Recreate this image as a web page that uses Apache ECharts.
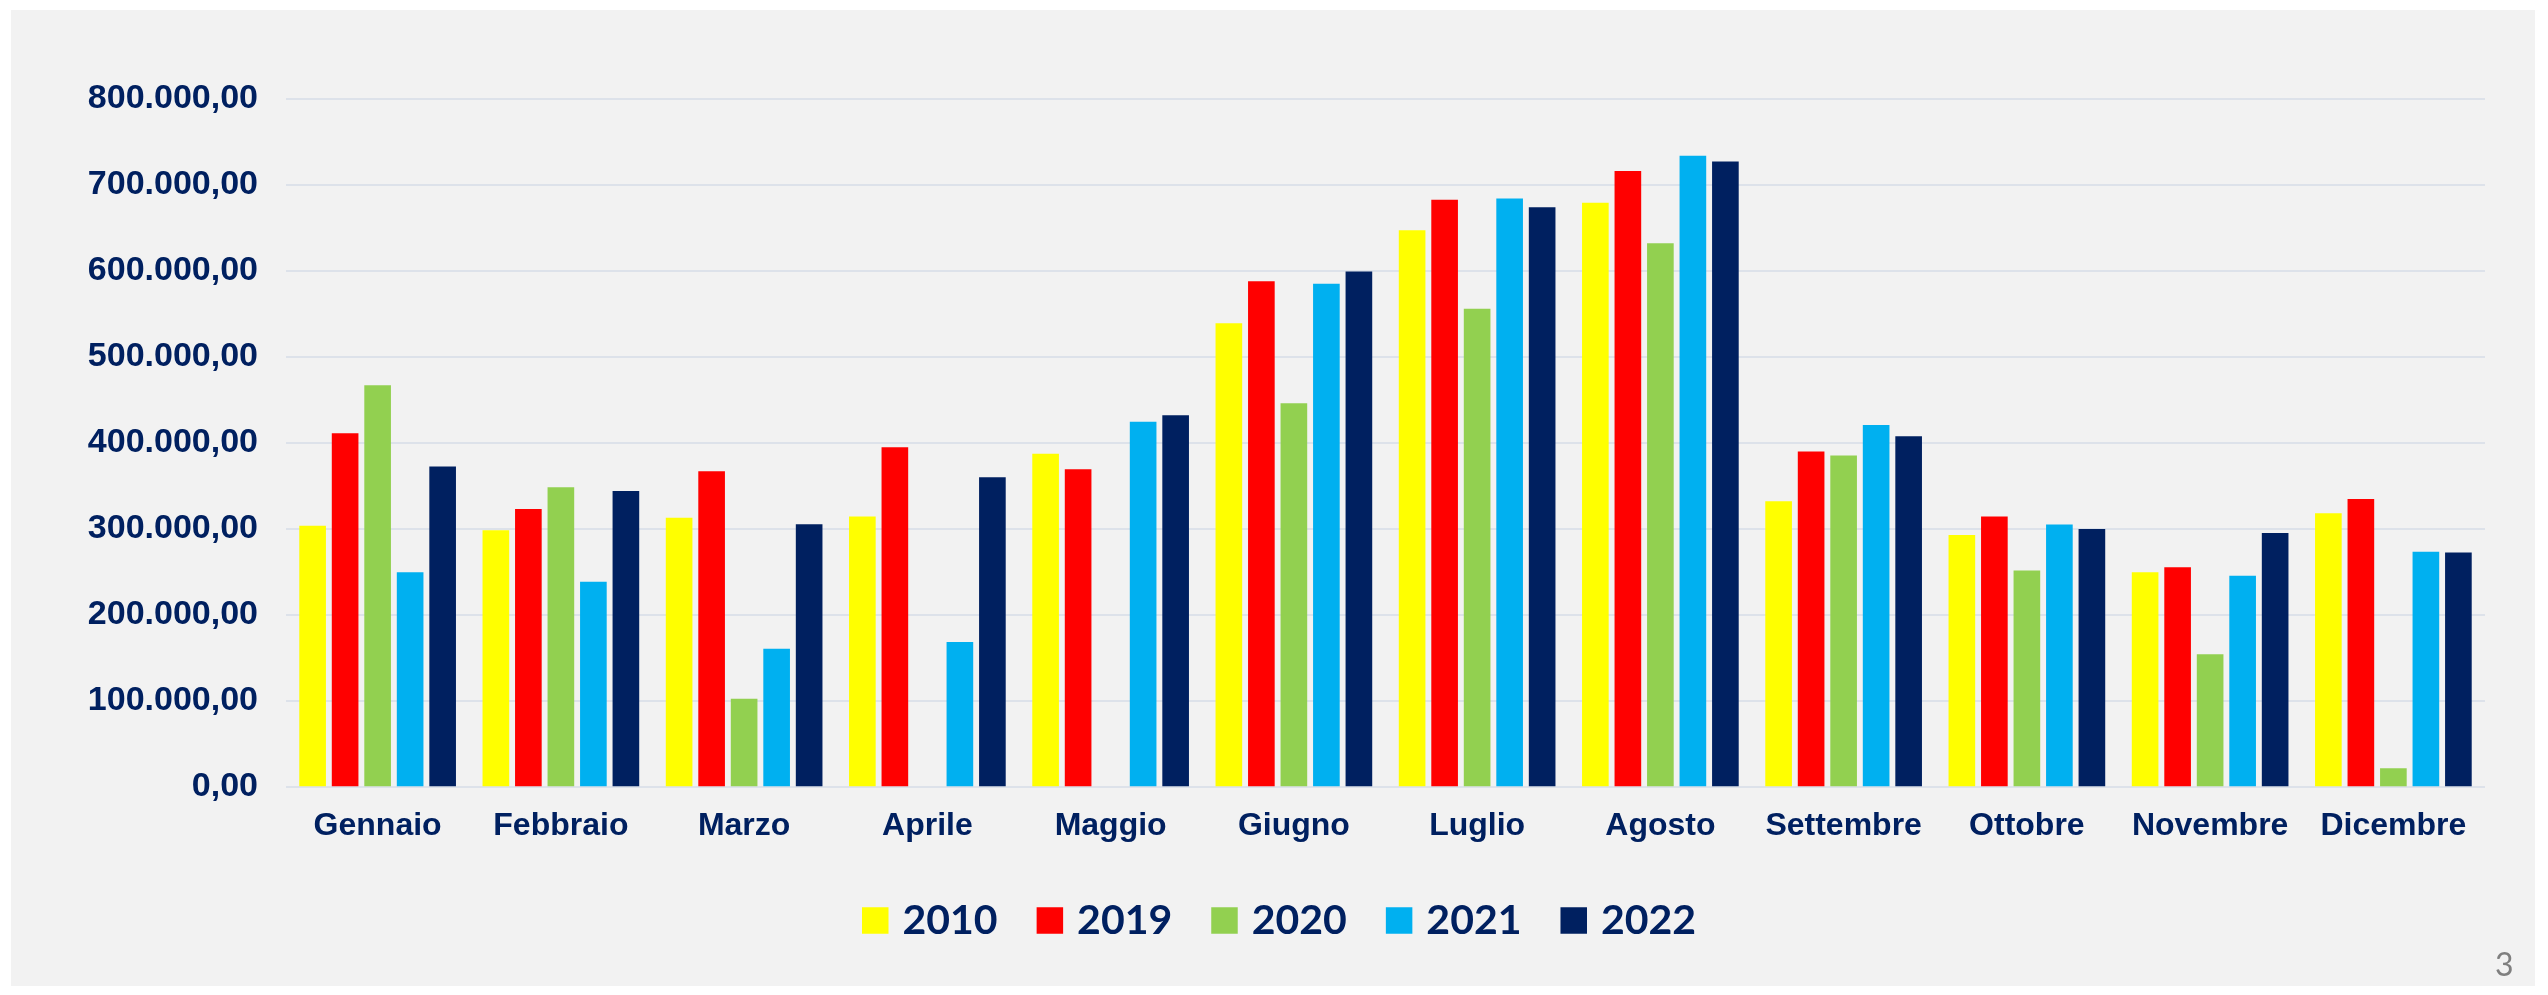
<!DOCTYPE html>
<html>
<head>
<meta charset="utf-8">
<script src="https://cdn.jsdelivr.net/npm/echarts@6/dist/echarts.min.js"></script>
<style>
  html, body { margin: 0; padding: 0; background: #fff; }
  #panel { position: absolute; left: 11px; top: 10px; width: 2524px; height: 976px; background: #f2f2f2; }
  #main { position: absolute; left: 0; top: 0; width: 2548px; height: 995px; }
</style>
</head>
<body>
<div id="panel"></div>
<div id="main"></div>
<script>
// mesi e anni
const months = ["Gennaio", "Febbraio", "Marzo", "Aprile", "Maggio", "Giugno",
  "Luglio", "Agosto", "Settembre", "Ottobre", "Novembre", "Dicembre"];
const years = ["2010", "2019", "2020", "2021", "2022"];
const colors = ["#ffff00", "#ff0000", "#92d050", "#00b0f0", "#002060"];

// valori
const values2010 = [303000, 298000, 312500, 314000, 387000, 538700, 647000, 679000, 331600, 292400, 249000, 317600];
const values2019 = [410700, 322600, 366500, 394400, 369000, 587500, 682500, 716000, 389500, 314000, 255000, 334400];
const values2020 = [466500, 348000, 102000, null, null, 445600, 555700, 631800, 385000, 251000, 153600, 21000];
const values2021 = [249000, 238000, 160000, 168000, 424000, 584800, 684000, 733700, 420500, 304600, 245000, 272800];
const values2022 = [372000, 343600, 305000, 359500, 431600, 599000, 673600, 727000, 407400, 299400, 294800, 272000];

const allValues = [values2010, values2019, values2020, values2021, values2022];

// 800000 -> "800.000,00"
function fmt(v) {
  return String(v).replace(/\B(?=(\d{3})+(?!\d))/g, ".") + ",00";
}

const navy = "#002060";
const chart = echarts.init(document.getElementById("main"), null, { renderer: "canvas" });

const option = {
  animation: false,
  backgroundColor: "transparent",
  color: colors,
  grid: {
    left: 286,
    right: 63,
    top: 98.7,
    bottom: 208.7,
  },
  legend: {
    data: years,
    left: 862,
    top: 899.5,
    padding: 0,
    itemWidth: 26.5,
    itemHeight: 26.5,
    itemGap: 39,
    icon: "rect",
    textStyle: {
      color: navy,
      fontFamily: "Lato",
      fontWeight: "bold",
      fontSize: 41,
      lineHeight: 42,
      padding: [0, 0, 0, 9],
    },
  },
  xAxis: {
    type: "category",
    data: months,
    axisLine: { show: false },
    axisTick: { show: false },
    axisLabel: {
      color: navy,
      fontFamily: "Liberation Sans",
      fontWeight: "bold",
      fontSize: 32,
      margin: 24,
      interval: 0,
    },
  },
  yAxis: {
    type: "value",
    min: 0,
    max: 800000,
    interval: 100000,
    axisLabel: {
      color: navy,
      fontFamily: "Liberation Sans",
      fontWeight: "bold",
      fontSize: 34,
      margin: 28,
      formatter: fmt,
    },
    splitLine: {
      lineStyle: { color: "#dde2ea", width: 2 },
    },
  },
  graphic: [
    {
      type: "text",
      left: 2495,
      top: 950,
      style: {
        text: "3",
        fill: "#7f7f7f",
        fontFamily: "Lato",
        fontSize: 32,
      },
    },
  ],
  series: years.map((y, i) => ({
    name: y,
    type: "bar",
    data: allValues[i],
    barGap: "22%",
    barCategoryGap: "14.5%",
  })),
};

chart.setOption(option);
</script>
</body>
</html>
